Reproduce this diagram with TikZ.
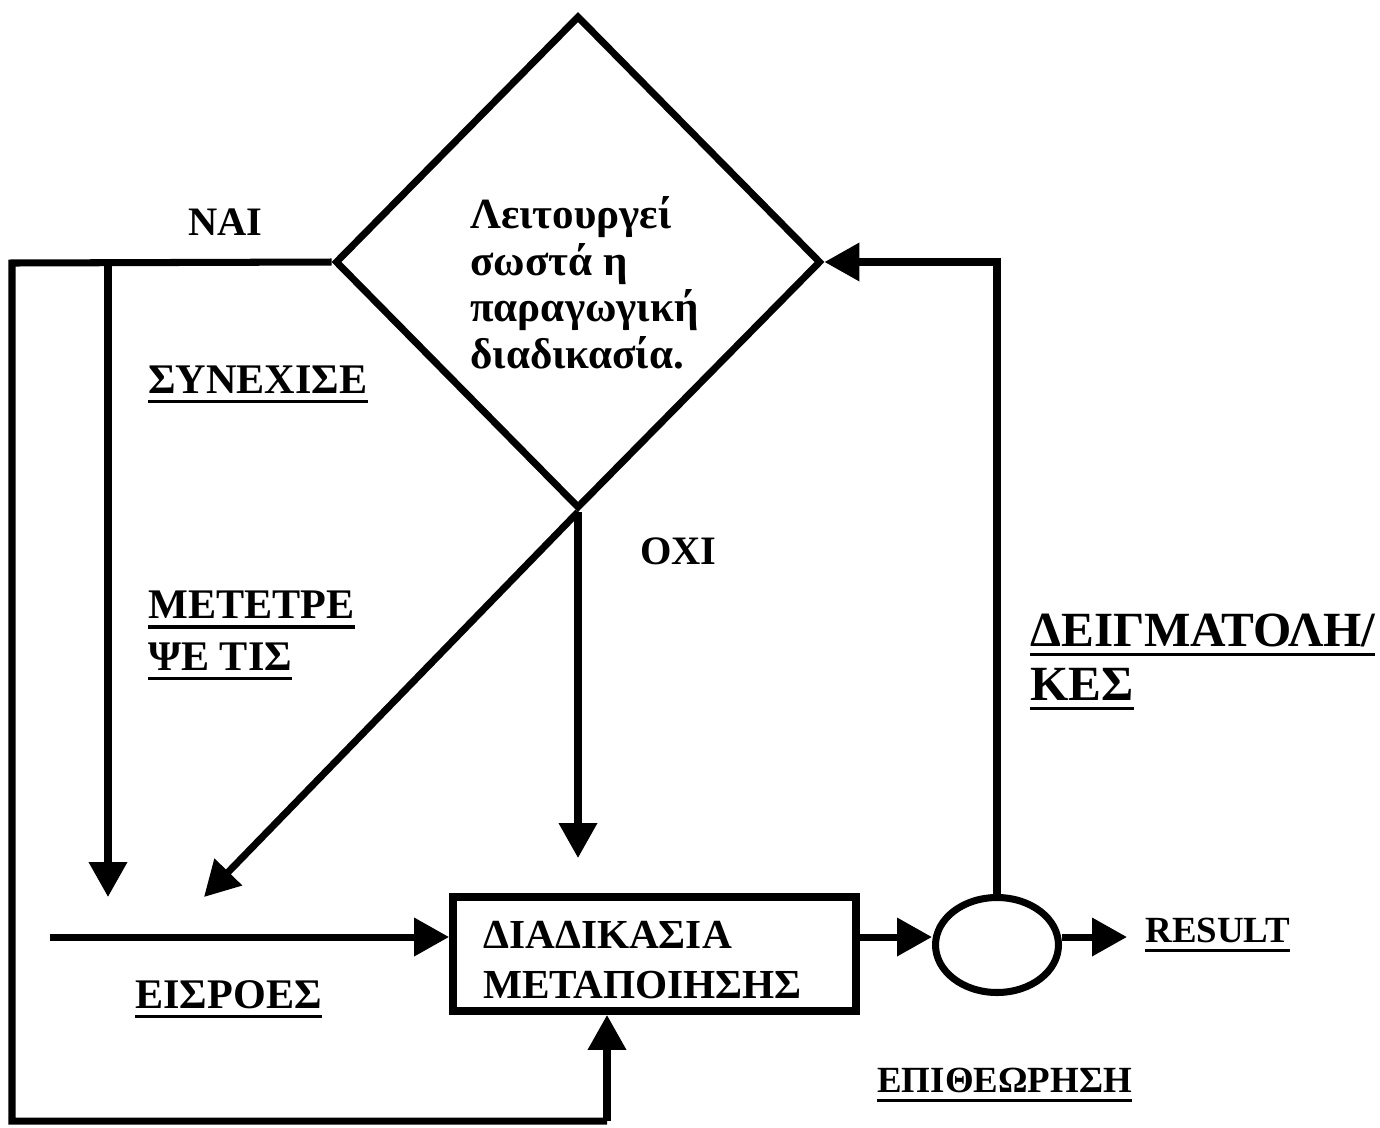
\documentclass[tikz,border=0pt]{standalone}
\usepackage{fontspec}
\setmainfont{Liberation Serif}
\usetikzlibrary{positioning, arrows.meta, shapes.geometric, calc}
\newcommand{\labfont}{\bfseries\fontsize{24}{29.5}\selectfont}
\newsavebox{\ulinebox}
\newcommand{\ulin}[1]{\sbox{\ulinebox}{#1}\rlap{\smash{\rule[-5.5pt]{\wd\ulinebox}{1.8pt}}}\usebox{\ulinebox}}
\tikzset{
  flowline/.style={line width=4pt},
  arr/.style={flowline, -{Triangle[length=0.7cm, width=0.74cm]}},
  decision/.style={draw, diamond, line width=4pt, minimum width=9.72cm, minimum height=9.86cm, inner sep=0pt},
  procbox/.style={draw, rectangle, line width=4.5pt, minimum width=8.06cm, minimum height=2.28cm, inner sep=0pt},
  check/.style={draw, ellipse, line width=4pt, minimum width=2.46cm, minimum height=1.9cm, inner sep=0pt},
  lbl/.style={font=\labfont, inner sep=0pt, anchor=west, align=left}
}

\begin{document}
\begin{tikzpicture}[x=0.02cm, y=-0.02cm]
  \useasboundingbox (0,0) rectangle (1380,1127);

  % decision and process
  \node[decision] (dec) at (578,262) {};
  \node[lbl, font=\bfseries\fontsize{24.5}{26.5}\selectfont] (qtext) at (470,283) {Λειτουργεί\\σωστά η\\παραγωγική\\διαδικασία.};
  \node[procbox] (proc) at (654.5,954) {};
  \node[lbl, font=\bfseries\fontsize{23.5}{28.3}\selectfont] (proctext) at (483,960) {ΔΙΑΔΙΚΑΣΙΑ\\ΜΕΤΑΠΟΙΗΣΗΣ};
  \node[check] (insp) at (997,945) {};

  % corners and free ends
  \coordinate (inp) at (50,937);
  \coordinate (nw) at (12,263);
  \coordinate (sw) at (12,1121);
  \coordinate (back) at (607,1121);
  \coordinate (cont) at (108,263);
  \coordinate (conttip) at (108,897);
  \coordinate (difftip) at (204,897);
  \coordinate (notip) at (588,858);
  \coordinate (restip) at (1127,937);

  % yes branch
  \draw[flowline] (dec.west) -- (nw) -- (sw) -- (back);
  \draw[arr] (back) -- (back |- proc.south);
  \draw[arr] (cont) -- (conttip);

  % no branch
  \draw[arr] (dec.south) -- (difftip);
  \draw[arr] (dec.south) -- (dec.south |- notip);

  % main flow
  \draw[arr] (inp) -- (inp -| proc.west);
  \draw[arr] (inp -| proc.east) -- (inp -| insp.west);
  \draw[arr] (inp -| insp.east) -- (restip);
  \draw[arr] (insp.north) |- (dec.east);

  % labels
  \node[lbl, font=\bfseries\fontsize{23}{28}\selectfont] (yes) at (188,222) {ΝΑΙ};
  \node[lbl] (contlbl) at (148,380) {\ulin{ΣΥΝΕΧΙΣΕ}};
  \node[lbl, font=\bfseries\fontsize{23}{28}\selectfont] (no) at (640,551) {ΟΧΙ};
  \node[lbl] (adjlbl) at (148,631) {\ulin{ΜΕΤΕΤΡΕ}\\\ulin{ΨΕ ΤΙΣ}};
  \node[lbl, font=\bfseries\fontsize{28}{31}\selectfont] (samplbl) at (1030,657) {\ulin{ΔΕΙΓΜΑΤΟΛΗ/}\\\ulin{ΚΕΣ}};
  \node[lbl] (inlbl) at (135,995) {\ulin{ΕΙΣΡΟΕΣ}};
  \node[lbl, font=\bfseries\fontsize{21}{25}\selectfont] (reslbl) at (1145,930) {\ulin{RESULT}};
  \node[lbl, font=\bfseries\fontsize{21}{25}\selectfont] (insplbl) at (877,1080) {\ulin{ΕΠΙΘΕΩΡΗΣΗ}};

\end{tikzpicture}
\end{document}
